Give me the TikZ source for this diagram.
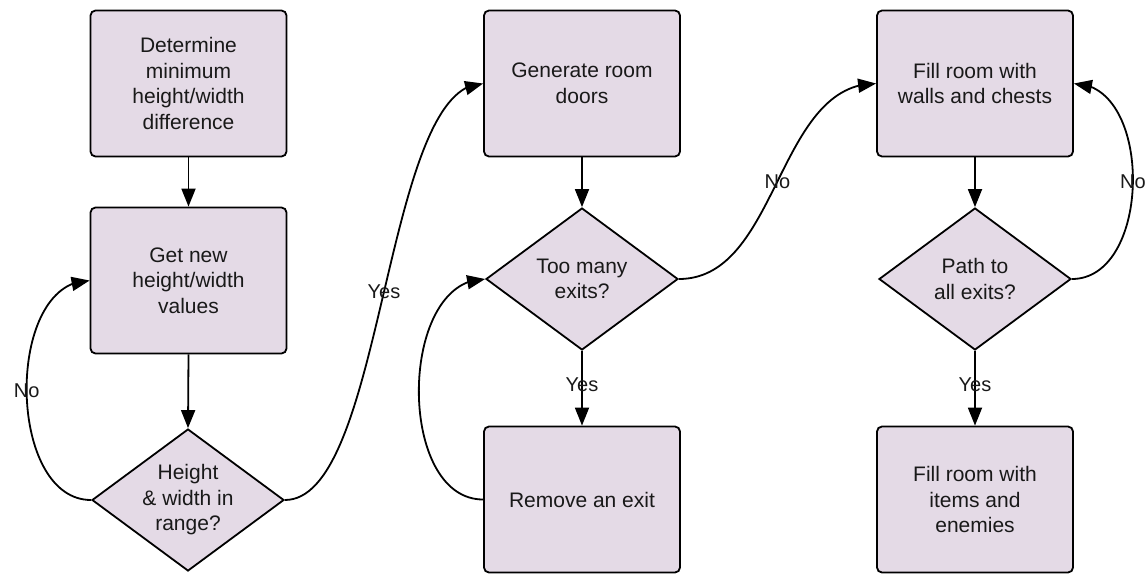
\documentclass[tikz,border=0pt]{standalone}
\usepackage{fontspec}
\setmainfont{Liberation Sans}
\usetikzlibrary{shapes.geometric, arrows.meta, bending}
\definecolor{boxfill}{RGB}{228,218,230}
\definecolor{inktext}{RGB}{25,25,25}

\begin{document}
\begin{tikzpicture}[x=1pt, y=-1pt,
  stepbox/.style={draw=black, line width=1.8pt, fill=boxfill, rounded corners=5pt,
    minimum width=196pt, minimum height=146pt, inner sep=0pt, align=center,
    text=inktext, font=\fontsize{21}{25.5}\selectfont},
  decision/.style={draw=black, line width=1.8pt, fill=boxfill, shape=diamond,
    aspect=1.35, minimum width=192pt, minimum height=142pt, inner sep=0pt,
    align=center, text=inktext, font=\fontsize{21}{25.5}\selectfont},
  flow/.style={line width=1.8pt, -{Triangle[length=18pt, width=14pt]}},
  lbl/.style={text=inktext, inner sep=0pt, font=\fontsize{20}{24}\selectfont}
]
% canvas
\fill[white] (0,0) rectangle (1148,573);

% first column: size selection
\node[stepbox]  (b1) at (188.5, 83.5) {Determine\\minimum\\height/width\\difference};
\node[stepbox]  (b2) at (188.5, 280.5) {Get new\\height/width\\values};
\node[decision] (d1) at (188, 500) {Height\\\& width in\\range?};

% second column: doors
\node[stepbox]  (b3) at (582, 83.5) {Generate room\\doors};
\node[decision] (d2) at (582, 279) {Too many\\exits?};
\node[stepbox]  (b4) at (582, 499.5) {Remove an exit};

% third column: contents
\node[stepbox]  (b5) at (975, 83.5) {Fill room with\\walls and chests};
\node[decision] (d3) at (975, 279) {Path to\\all exits?};
\node[stepbox]  (b6) at (975, 499.5) {Fill room with\\items and\\enemies};

% straight connectors
\draw[flow] (b1.south) -- (b2.north);
\draw[flow] (b2.south) -- (d1.north);
\draw[flow] (b3.south) -- (d2.north);
\draw[flow] (d2.south) -- node[lbl, pos=0.45] {Yes} (b4.north);
\draw[flow] (b5.south) -- (d3.north);
\draw[flow] (d3.south) -- node[lbl, pos=0.45] {Yes} (b6.north);

% curved connectors
\draw[flow] (d1.west) .. controls +(-85,0) and +(-85,0) .. (b2.west)
  node[lbl, pos=0.5] {No};
\draw[flow] (d1.east) .. controls +(100,0) and +(-100,0) .. (b3.west)
  node[lbl, pos=0.5] {Yes};
\draw[flow] (b4.west) .. controls +(-87,0) and +(-87,0) .. (d2.west);
\draw[flow] (d2.east) .. controls +(100,0) and +(-100,0) .. (b5.west)
  node[lbl, pos=0.5] {No};
\draw[flow] (d3.east) .. controls +(80,0) and +(80,0) .. (b5.east)
  node[lbl, pos=0.5] {No};

% page frame
\pgfresetboundingbox
\useasboundingbox (0,0) rectangle (1148,573);
\end{tikzpicture}
\end{document}
